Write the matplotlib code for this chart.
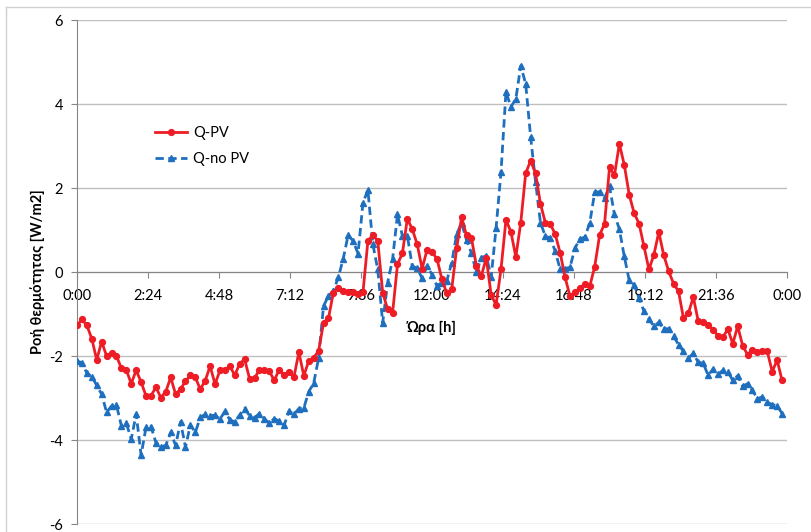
import numpy as np
import matplotlib
matplotlib.use("Agg")
import matplotlib.pyplot as plt
from matplotlib.lines import Line2D

plt.rcParams['font.family'] = ['Lato', 'DejaVu Sans']

# 10-minute readings over one day
step_minutes = 10

q_pv = [
    -1.27, -1.13, -1.27, -1.59, -2.09, -1.66, -2.00, -1.94, -2.00, -2.29,
    -2.33, -2.66, -2.34, -2.62, -2.95, -2.95, -2.74, -2.99, -2.85, -2.51,
    -2.91, -2.79, -2.60, -2.46, -2.51, -2.79, -2.59, -2.24, -2.67, -2.34,
    -2.33, -2.24, -2.46, -2.18, -2.08, -2.54, -2.53, -2.33, -2.34, -2.36,
    -2.58, -2.33, -2.45, -2.38, -2.50, -1.91, -2.47, -2.12, -2.04, -1.88,
    -1.21, -1.10, -0.49, -0.37, -0.45, -0.48, -0.48, -0.53, -0.48, 0.74,
    0.88, 0.74, -0.49, -0.89, -0.98, 0.18, 0.45, 1.27, 1.02, 0.66,
    0.08, 0.53, 0.47, 0.32, -0.17, -0.51, -0.41, 0.57, 1.30, 0.87,
    0.81, 0.15, -0.10, 0.34, -0.55, -0.78, 0.07, 1.24, 0.96, 0.36,
    1.17, 2.35, 2.65, 2.35, 1.62, 1.17, 1.14, 0.90, 0.45, -0.13,
    -0.58, -0.48, -0.38, -0.29, -0.34, 0.13, 0.88, 1.15, 2.49, 2.30,
    3.05, 2.55, 1.84, 1.40, 1.15, 0.61, 0.06, 0.41, 0.95, 0.40,
    0.02, -0.28, -0.46, -1.10, -0.98, -0.60, -1.17, -1.20, -1.25, -1.37,
    -1.52, -1.55, -1.36, -1.71, -1.29, -1.75, -1.97, -1.85, -1.91, -1.89,
    -1.89, -2.37, -2.10, -2.58,
]

q_no_pv = [
    -2.12, -2.16, -2.41, -2.49, -2.70, -2.91, -3.34, -3.19, -3.17, -3.66,
    -3.60, -3.98, -3.38, -4.36, -3.70, -3.68, -4.06, -4.16, -4.13, -3.82,
    -4.13, -3.57, -4.17, -3.64, -3.82, -3.46, -3.39, -3.42, -3.41, -3.50,
    -3.32, -3.52, -3.57, -3.40, -3.25, -3.42, -3.47, -3.37, -3.49, -3.60,
    -3.49, -3.55, -3.65, -3.31, -3.39, -3.25, -3.24, -2.85, -2.65, -2.05,
    -0.81, -0.57, -0.45, -0.13, 0.32, 0.88, 0.74, 0.44, 1.65, 1.95,
    0.66, 0.06, -1.21, -0.25, 0.30, 1.37, 0.86, 0.86, 0.14, 0.09,
    -0.15, 0.14, -0.06, -0.33, -0.25, -0.21, 0.22, 0.90, 1.17, 0.76,
    0.45, -0.01, 0.34, 0.39, -0.12, 1.05, 2.39, 4.29, 3.93, 4.12,
    4.91, 4.48, 3.22, 2.15, 1.17, 0.85, 0.81, 0.49, 0.06, 0.07,
    0.12, 0.57, 0.79, 0.83, 1.17, 1.90, 1.91, 1.76, 2.04, 1.37,
    1.02, 0.37, -0.20, -0.30, -0.62, -0.94, -1.12, -1.29, -1.20, -1.35,
    -1.35, -1.53, -1.73, -1.89, -2.05, -1.94, -2.15, -2.17, -2.46, -2.31,
    -2.44, -2.34, -2.37, -2.58, -2.47, -2.72, -2.66, -2.82, -3.02, -2.97,
    -3.10, -3.16, -3.18, -3.37,
]

x_ticks = [0, 2.4, 4.8, 7.2, 9.6, 12, 14.4, 16.8, 19.2, 21.6, 24]
x_tick_labels = ["0:00", "2:24", "4:48", "7:12", "9:36", "12:00",
                 "14:24", "16:48", "19:12", "21:36", "0:00"]
y_ticks = [-6, -4, -2, 0, 2, 4, 6]

hours = np.arange(len(q_pv)) * step_minutes / 60.0

W, H = 811, 532
fig = plt.figure(figsize=(W / 100, H / 100), dpi=100)
ax = fig.add_axes([77 / W, 1 - 524 / H, (787 - 77) / W, (524 - 20) / H])

red = "#ee1c25"
blue = "#1f6fbf"
axis_grey = "#868686"
grid_grey = "#bfbfbf"
frame_grey = "#d0d0d0"

# chart-area frame along the top and left edges
fig.add_artist(Line2D([6 / W, 1.0], [1 - 7 / H, 1 - 7 / H],
                      transform=fig.transFigure, color=frame_grey, lw=1.0))
fig.add_artist(Line2D([6 / W, 6 / W], [0.0, 1 - 7 / H],
                      transform=fig.transFigure, color=frame_grey, lw=1.0))

ax.plot(hours, q_pv, color=red, lw=2.0, marker="o", ms=4.2,
        label="Q-PV", zorder=4)
ax.plot(hours, q_no_pv, color=blue, lw=2.0, ls=(0, (3, 1.6)), marker="^",
        ms=4.6, label="Q-no PV", zorder=3)

ax.set_xlim(0, 24)
ax.set_ylim(-6, 6)
ax.set_yticks(y_ticks)
ax.set_yticklabels([str(v) for v in y_ticks])
ax.set_xticks(x_ticks)
ax.set_xticklabels(x_tick_labels)

ax.yaxis.grid(True, color=grid_grey, lw=1.0)
ax.set_axisbelow(True)

for side in ("top", "right"):
    ax.spines[side].set_visible(False)
ax.spines["left"].set_color(axis_grey)
ax.spines["bottom"].set_color(axis_grey)
ax.spines["bottom"].set_position(("data", 0))
ax.spines["bottom"].set_zorder(2)

ax.tick_params(axis="y", direction="out", length=4, color=axis_grey,
               labelsize=10.5, pad=6)
ax.tick_params(axis="x", direction="out", length=4, color=axis_grey,
               labelsize=10.5, pad=8)

ax.set_ylabel("Ροή θερμότητας [W/m2]", fontsize=10.5, fontweight="bold",
              labelpad=3)
ax.text(12, -1.33, "Ώρα [h]", ha="center", va="center", fontsize=10.5,
        fontweight="bold")

leg = ax.legend(loc="upper left", bbox_to_anchor=(68 / 710, 1 - 96 / 504),
                frameon=False, fontsize=10.5, handlelength=2.2,
                handletextpad=0.4, labelspacing=0.8, borderpad=0.2)

fig.savefig("out.png", dpi=100)
